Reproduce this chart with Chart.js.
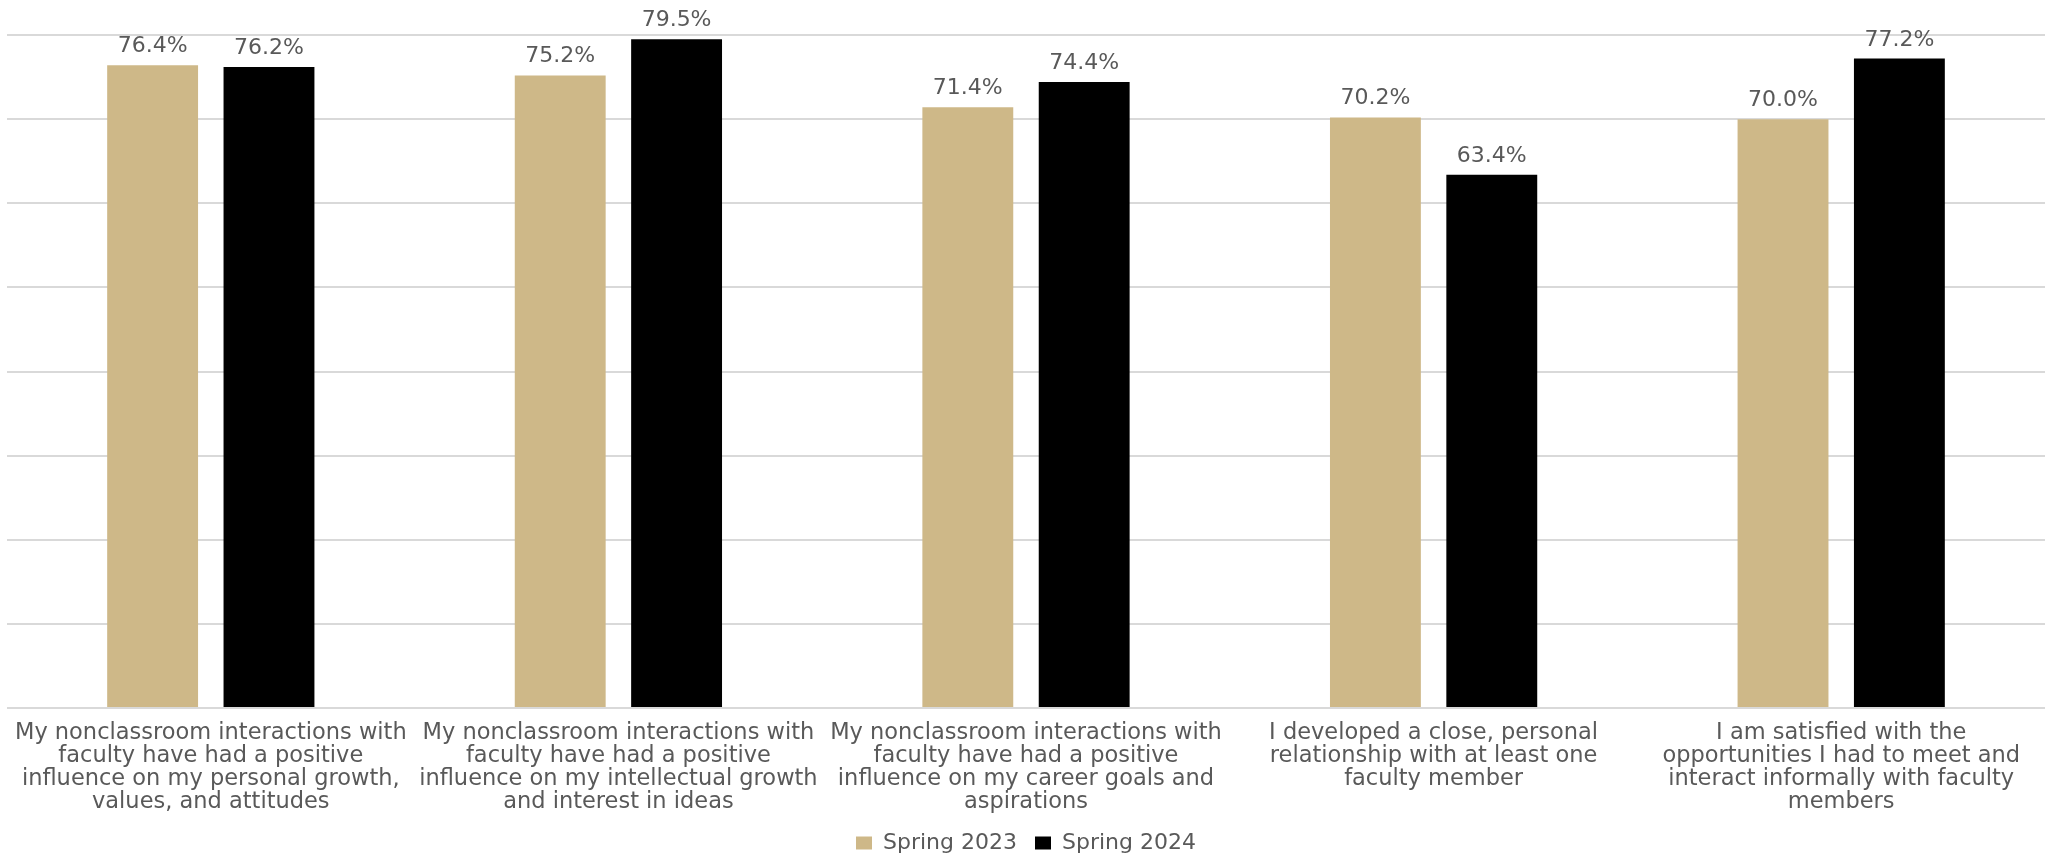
<!DOCTYPE html>
<html>
<head>
<meta charset="utf-8">
<script src="https://cdn.jsdelivr.net/npm/chart.js@4.4.1/dist/chart.umd.min.js"></script>
<style>
  html, body { margin: 0; padding: 0; background: #fff; }
</style>
</head>
<body>
<canvas id="facultyChart" width="2045" height="854"></canvas>
<script>
// faculty interaction survey, spring 2023 vs spring 2024

const categories = [
  ["My nonclassroom interactions with", "faculty have had a positive", "influence on my personal growth,", "values, and attitudes"],
  ["My nonclassroom interactions with", "faculty have had a positive", "influence on my intellectual growth", "and interest in ideas"],
  ["My nonclassroom interactions with", "faculty have had a positive", "influence on my career goals and", "aspirations"],
  ["I developed a close, personal", "relationship with at least one", "faculty member"],
  ["I am satisfied with the", "opportunities I had to meet and", "interact informally with faculty", "members"]
];
const seriesNames = ["Spring 2023", "Spring 2024"];
const spring2023 = [76.4, 75.2, 71.4, 70.2, 70.0];
const spring2024 = [76.2, 79.5, 74.4, 63.4, 77.2];
const yMin = 0;
const yMax = 80;
const yStep = 10;

const COLORS = {
  gold:  "#CEB888",
  black: "#000000",
  grid:  "#D9D9D9",
  text:  "#595959"
};

const FONT = '"DejaVu Sans", "Open Sans", sans-serif';

// подписи значений над столбцами
const valueLabels = {
  id: "valueLabels",
  afterDatasetsDraw(chart) {
    const { ctx } = chart;
    ctx.save();
    ctx.font = "22px " + FONT;
    ctx.fillStyle = COLORS.text;
    ctx.textAlign = "center";
    ctx.textBaseline = "alphabetic";
    chart.data.datasets.forEach((ds, i) => {
      chart.getDatasetMeta(i).data.forEach((bar, j) => {
        ctx.fillText(ds.data[j].toFixed(1) + "%", bar.x, bar.y - 13);
      });
    });
    ctx.restore();
  }
};

const ctx = document.getElementById("facultyChart").getContext("2d");

new Chart(ctx, {
  type: "bar",
  data: {
    labels: categories,
    datasets: [
      {
        label: seriesNames[0],
        data: spring2023,
        backgroundColor: COLORS.gold,
        categoryPercentage: 0.571,
        barPercentage: 0.781
      },
      {
        label: seriesNames[1],
        data: spring2024,
        backgroundColor: COLORS.black,
        categoryPercentage: 0.571,
        barPercentage: 0.781
      }
    ]
  },
  options: {
    responsive: false,
    animation: false,
    layout: { padding: { top: 35, left: 7, right: 0, bottom: -10 } },
    plugins: {
      legend: {
        position: "bottom",
        labels: {
          boxWidth: 16,
          boxHeight: 13,
          padding: 18,
          color: COLORS.text,
          font: { family: FONT, size: 22 }
        }
      },
      tooltip: { enabled: false }
    },
    scales: {
      x: {
        grid: { display: false, drawTicks: false },
        border: { display: false },
        ticks: {
          color: COLORS.text,
          font: { family: FONT, size: 22.5, lineHeight: "23px" },
          padding: 13.5,
          autoSkip: false,
          maxRotation: 0,
          minRotation: 0
        },
        afterFit(scale) { scale.height = 106; }
      },
      y: {
        min: yMin,
        max: yMax,
        grid: { color: COLORS.grid, lineWidth: 2, drawTicks: false },
        border: { display: false },
        ticks: { display: false, stepSize: yStep }
      }
    }
  },
  plugins: [valueLabels]
});
</script>
</body>
</html>
